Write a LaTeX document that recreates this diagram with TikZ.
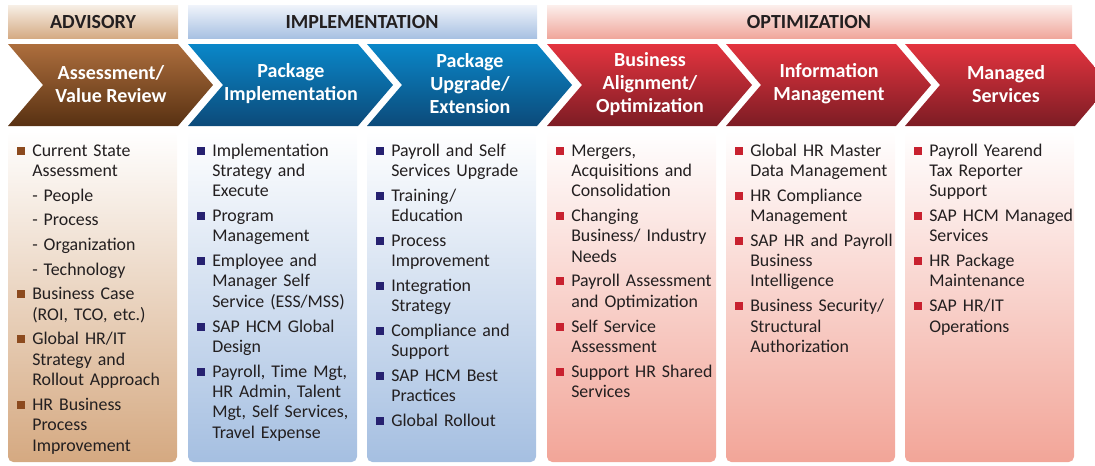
\documentclass[tikz,border=0pt]{standalone}
\usepackage{fontspec}
\setmainfont{Carlito}
\usepackage{tikz}

\definecolor{ink}{HTML}{231F20}
% phase colours: bar, arrow and column, top and bottom
\definecolor{advbarT}{HTML}{F7EFE6}
\definecolor{advbarB}{HTML}{D5AB84}
\definecolor{impbarT}{HTML}{F0F4FB}
\definecolor{impbarB}{HTML}{A8C1E2}
\definecolor{optbarT}{HTML}{FCEFEC}
\definecolor{optbarB}{HTML}{F0A79C}
\definecolor{advchevT}{HTML}{AD6E3D}
\definecolor{advchevB}{HTML}{583112}
\definecolor{impchevT}{HTML}{0A87C9}
\definecolor{impchevB}{HTML}{0C4A79}
\definecolor{optchevT}{HTML}{E4343F}
\definecolor{optchevB}{HTML}{7C1C24}
\definecolor{advboxB}{HTML}{D5A981}
\definecolor{impboxB}{HTML}{A5BFE1}
\definecolor{optboxB}{HTML}{F2A598}
\definecolor{advbul}{HTML}{8C4A1E}
\definecolor{impbul}{HTML}{262170}
\definecolor{optbul}{HTML}{C8212F}

\newlength\bulind
\setlength\bulind{11.25pt}
% one bulleted entry, lines after the first hang under the text
\newcommand\bul[2]{\hangindent=\bulind\hangafter=1\noindent
  \makebox[\bulind][l]{\textcolor{#1}{\rule[1.1pt]{6pt}{6pt}}}#2\par}
\newcommand\subpoint[1]{\noindent\hspace*{\bulind}#1\par}
% arrow shape with notch, #1 = left edge
\newcommand\chevron[3]{\shade[top color=#2, bottom color=#3] (#1,44) -- ++(170,0)
  -- ++(35,41) -- ++(-35,41) -- ++(-170,0) -- ++(35,-41) -- cycle;}

\begin{document}
\begin{tikzpicture}[x=0.75pt, y=-0.75pt,
  bartext/.style={font=\bfseries\fontsize{15}{18}\selectfont, text=ink},
  chevtext/.style={font=\bfseries\fontsize{15}{17.25}\selectfont, text=white, align=center},
  coltext/.style={anchor=base west, inner sep=0pt, text width=120pt, align=left,
    font=\fontsize{13.4}{15.3}\selectfont, text=ink,
    execute at begin node={\setlength{\parskip}{3.2pt}}}]
\clip (0,0) rectangle (1095,465);

% phase bars
\shade[top color=advbarT, bottom color=advbarB] (8,5) rectangle (178,38);
\shade[top color=impbarT, bottom color=impbarB] (188,5) rectangle (537,38);
\shade[top color=optbarT, bottom color=optbarB] (547,5) rectangle (1072,38);
\node[bartext] (advisory) at (93,22) {ADVISORY};
\node[bartext] (implementation) at (362,22) {IMPLEMENTATION};
\node[bartext] (optimization) at (809,22) {OPTIMIZATION};

% arrows
\chevron{8}{advchevT}{advchevB}
\chevron{188}{impchevT}{impchevB}
\chevron{367}{impchevT}{impchevB}
\chevron{547}{optchevT}{optchevB}
\chevron{726}{optchevT}{optchevB}
\chevron{905}{optchevT}{optchevB}
\node[chevtext] (assess) at (111,84) {Assessment/\\Value Review};
\node[chevtext] (pkgimpl) at (291,84) {Package\\Implementation};
\node[chevtext] (pkgupg) at (470,84) {Package\\Upgrade/\\Extension};
\node[chevtext] (bizalign) at (650,84) {Business\\Alignment/\\Optimization};
\node[chevtext] (infomgmt) at (829,84) {Information\\Management};
\node[chevtext] (managed) at (1006,84) {Managed\\Services};

% columns
\shade[rounded corners=4pt, top color=white, bottom color=advboxB] (8,131) rectangle (177,462);
\shade[rounded corners=4pt, top color=white, bottom color=impboxB] (188,131) rectangle (357,462);
\shade[rounded corners=4pt, top color=white, bottom color=impboxB] (367,131) rectangle (536,462);
\shade[rounded corners=4pt, top color=white, bottom color=optboxB] (547,131) rectangle (716,462);
\shade[rounded corners=4pt, top color=white, bottom color=optboxB] (726,131) rectangle (895,462);
\shade[rounded corners=4pt, top color=white, bottom color=optboxB] (905,131) rectangle (1074,462);

\node[coltext] (assesslist) at (17,156) {%
  \bul{advbul}{Current State\newline Assessment}%
  \subpoint{- People}\subpoint{- Process}\subpoint{- Organization}\subpoint{- Technology}%
  \bul{advbul}{Business Case\newline (ROI, TCO, etc.)}%
  \bul{advbul}{Global HR/IT\newline Strategy and\newline Rollout Approach}%
  \bul{advbul}{HR Business\newline Process\newline Improvement}};

\node[coltext] (pkgimpllist) at (197,156) {%
  \bul{impbul}{Implementation\newline Strategy and\newline Execute}%
  \bul{impbul}{Program\newline Management}%
  \bul{impbul}{Employee and\newline Manager Self\newline Service (ESS/MSS)}%
  \bul{impbul}{SAP HCM Global\newline Design}%
  \bul{impbul}{Payroll, Time Mgt,\newline HR Admin, Talent\newline Mgt, Self Services,\newline Travel Expense}};

\node[coltext] (pkgupglist) at (376,156) {%
  \bul{impbul}{Payroll and Self\newline Services Upgrade}%
  \bul{impbul}{Training/\newline Education}%
  \bul{impbul}{Process\newline Improvement}%
  \bul{impbul}{Integration\newline Strategy}%
  \bul{impbul}{Compliance and\newline Support}%
  \bul{impbul}{SAP HCM Best\newline Practices}%
  \bul{impbul}{Global Rollout}};

\node[coltext] (bizalignlist) at (556,156) {%
  \bul{optbul}{Mergers,\newline Acquisitions and\newline Consolidation}%
  \bul{optbul}{Changing\newline Business/ Industry\newline Needs}%
  \bul{optbul}{Payroll Assessment\newline and Optimization}%
  \bul{optbul}{Self Service\newline Assessment}%
  \bul{optbul}{Support HR Shared\newline Services}};

\node[coltext] (infomgmtlist) at (735,156) {%
  \bul{optbul}{Global HR Master\newline Data Management}%
  \bul{optbul}{HR Compliance\newline Management}%
  \bul{optbul}{SAP HR and Payroll\newline Business\newline Intelligence}%
  \bul{optbul}{Business Security/\newline Structural\newline Authorization}};

\node[coltext] (managedlist) at (914,156) {%
  \bul{optbul}{Payroll Yearend\newline Tax Reporter\newline Support}%
  \bul{optbul}{SAP HCM Managed\newline Services}%
  \bul{optbul}{HR Package\newline Maintenance}%
  \bul{optbul}{SAP HR/IT\newline Operations}};
\end{tikzpicture}
\end{document}
